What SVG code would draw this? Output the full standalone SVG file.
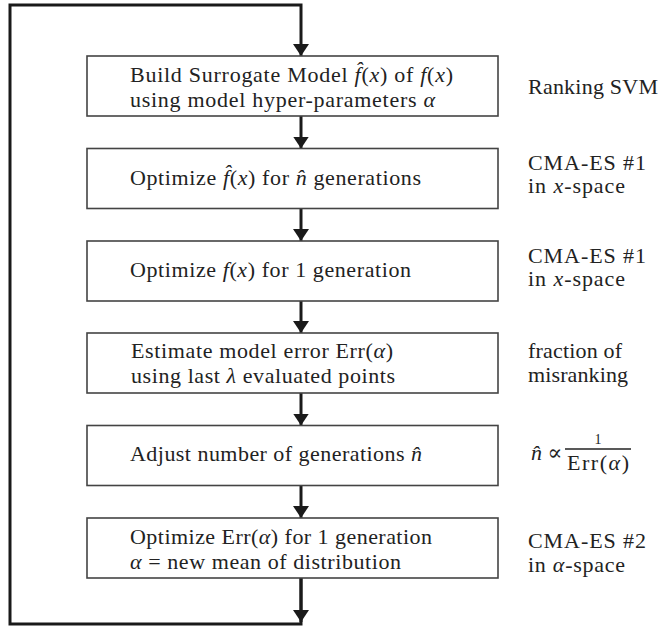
<svg xmlns="http://www.w3.org/2000/svg" width="669" height="626" viewBox="0 0 669 626">
  <style>
    .box { fill: #ffffff; stroke: #444444; stroke-width: 1.6; }
    .t { font-family: "Liberation Serif", "DejaVu Serif", serif; font-size: 22px; fill: #222222; }
    .m { font-style: italic; }
    .conn { fill: none; stroke: #1a1a1a; stroke-width: 3; }
    .bar { stroke: #222222; stroke-width: 1.6; }
  </style>
  <defs>
    <marker id="head" viewBox="0 0 12 16" refX="12" refY="8" markerWidth="12" markerHeight="16" markerUnits="userSpaceOnUse" orient="auto">
      <path d="M0,0 L12,8 L0,16 Z" fill="#1a1a1a"/>
    </marker>
  </defs>

  <rect width="669" height="626" fill="#ffffff"/>

  <!-- connectors: step-to-step arrows and the outer feedback loop -->
  <g id="connectors">
    <path class="conn" d="M301,578 V624 H10 V5 H301 V56" marker-end="url(#head)"/>
    <path class="conn" d="M301,578 V622" marker-end="url(#head)"/>
    <path class="conn" d="M301,116 V148.5" marker-end="url(#head)"/>
    <path class="conn" d="M301,208.5 V241" marker-end="url(#head)"/>
    <path class="conn" d="M301,301 V333" marker-end="url(#head)"/>
    <path class="conn" d="M301,393 V425.5" marker-end="url(#head)"/>
    <path class="conn" d="M301,485.5 V518" marker-end="url(#head)"/>
  </g>

  <!-- step 1: surrogate model -->
  <g id="build-surrogate">
    <rect class="box" x="87" y="56" width="411" height="60"/>
    <text class="t" x="130" y="82" textLength="323">Build Surrogate Model <tspan class="m">f̂</tspan>(<tspan class="m">x</tspan>) of <tspan class="m">f</tspan>(<tspan class="m">x</tspan>)</text>
    <text class="t" x="130" y="107" textLength="305">using model hyper-parameters <tspan class="m">α</tspan></text>
    <text class="t" x="528" y="94" textLength="130">Ranking SVM</text>
  </g>

  <!-- step 2: optimize surrogate -->
  <g id="optimize-surrogate">
    <rect class="box" x="87" y="148.5" width="411" height="60"/>
    <text class="t" x="130" y="184.5" textLength="291">Optimize <tspan class="m">f̂</tspan>(<tspan class="m">x</tspan>) for <tspan class="m">n̂</tspan> generations</text>
    <text class="t" x="528" y="170" textLength="118">CMA-ES #1</text>
    <text class="t" x="528" y="193" textLength="97">in  <tspan class="m">x</tspan>-space</text>
  </g>

  <!-- step 3: optimize true function -->
  <g id="optimize-true">
    <rect class="box" x="87" y="241" width="411" height="60"/>
    <text class="t" x="130" y="277" textLength="281">Optimize <tspan class="m">f</tspan>(<tspan class="m">x</tspan>) for 1 generation</text>
    <text class="t" x="528" y="262.5" textLength="118">CMA-ES #1</text>
    <text class="t" x="528" y="285.5" textLength="97">in  <tspan class="m">x</tspan>-space</text>
  </g>

  <!-- step 4: model error -->
  <g id="estimate-error">
    <rect class="box" x="87" y="333" width="411" height="60"/>
    <text class="t" x="131" y="358" textLength="262">Estimate model error Err(<tspan class="m">α</tspan>)</text>
    <text class="t" x="131" y="383" textLength="264">using last <tspan class="m">λ</tspan> evaluated points</text>
    <text class="t" x="528" y="358" textLength="94">fraction of</text>
    <text class="t" x="528" y="382" textLength="100">misranking</text>
  </g>

  <!-- step 5: adjust generation count -->
  <g id="adjust-generations">
    <rect class="box" x="87" y="425.5" width="411" height="60"/>
    <text class="t" x="130" y="461" textLength="292">Adjust number of generations <tspan class="m">n̂</tspan></text>
    <text class="t" x="531" y="460"><tspan class="m">n̂</tspan> ∝</text>
    <text class="t" x="598" y="444" text-anchor="middle" style="font-size:14px">1</text>
    <line class="bar" x1="565" y1="449" x2="631" y2="449"/>
    <text class="t" x="598" y="470" text-anchor="middle" textLength="62">Err(<tspan class="m">α</tspan>)</text>
  </g>

  <!-- step 6: optimize hyper-parameters -->
  <g id="optimize-hyper">
    <rect class="box" x="87" y="518" width="411" height="60"/>
    <text class="t" x="130" y="544" textLength="302">Optimize Err(<tspan class="m">α</tspan>) for 1 generation</text>
    <text class="t" x="130" y="569" textLength="271"><tspan class="m">α</tspan> = new mean of distribution</text>
    <text class="t" x="528" y="548" textLength="118">CMA-ES #2</text>
    <text class="t" x="528" y="572" textLength="97">in <tspan class="m">α</tspan>-space</text>
  </g>
</svg>
